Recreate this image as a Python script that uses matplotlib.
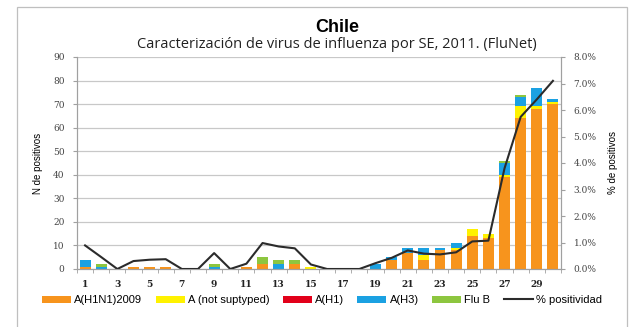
""" weekly influenza characterisation, Chile 2011 """

import numpy as np
import matplotlib.pyplot as plt
from matplotlib.patches import Rectangle
from matplotlib.ticker import FuncFormatter, MultipleLocator

# epidemiological weeks
weeks = list(range(1, 31))

# positive counts per virus type (stacked, bottom to top)
h1n1_2009 = [1, 0, 0, 1, 1, 1, 0, 0, 0, 0, 1, 2, 0, 2, 0, 0, 0, 0, 0, 4,
             7, 4, 8, 8, 14, 13, 39, 64, 68, 70]
a_not_subtyped = [0, 0, 0, 0, 0, 0, 0, 0, 0, 0, 0, 0, 0, 0, 1, 0, 0, 0, 0, 0,
                  0, 2, 0, 1, 3, 2, 1, 5, 1, 1]
a_h1 = [0] * 30
a_h3 = [3, 1, 0, 0, 0, 0, 0, 0, 1, 0, 0, 0, 2, 0, 0, 0, 0, 0, 2, 1,
        2, 3, 1, 2, 0, 0, 5, 4, 8, 1]
flu_b = [0, 1, 0, 0, 0, 0, 0, 0, 1, 0, 0, 3, 2, 2, 0, 0, 0, 0, 0, 0,
         0, 0, 0, 0, 0, 0, 1, 1, 0, 0]

# percent positivity
positividad = [0.89, 0.45, 0.0, 0.30, 0.35, 0.37, 0.0, 0.0, 0.60, 0.0,
               0.20, 0.98, 0.85, 0.78, 0.17, 0.0, 0.0, 0.0, 0.22, 0.42,
               0.70, 0.58, 0.55, 0.63, 1.04, 1.07, 3.80, 5.74, 6.40, 7.10]

series = [
    ("A(H1N1)2009", h1n1_2009, "#F7941D"),
    ("A (not suptyped)", a_not_subtyped, "#FFF200"),
    ("A(H1)", a_h1, "#E2001A"),
    ("A(H3)", a_h3, "#1BA1E2"),
    ("Flu B", flu_b, "#8DC63F"),
]

W, H = 632, 327
fig = plt.figure(figsize=(W / 100, H / 100), dpi=100)
fig.patch.set_facecolor("white")

# outer chart border
fig.patches.append(Rectangle((17 / W, -0.02), 610 / W, 1.0 - 7 / H + 0.02,
                             transform=fig.transFigure, fill=False,
                             edgecolor="#BFBFBF", linewidth=0.9))

ax = fig.add_axes([77 / W, 1 - 269 / H, 484 / W, 212 / H])
x = np.arange(len(weeks))

bottom = np.zeros(len(weeks))
handles = []
for name, vals, color in series:
    vals = np.array(vals, dtype=float)
    b = ax.bar(x, vals, 0.68, bottom=bottom, color=color, label=name,
               zorder=2)
    handles.append(b)
    bottom += vals

ax.set_xlim(-0.5, len(weeks) - 0.5)
ax.set_ylim(0, 90)
ax.yaxis.set_major_locator(MultipleLocator(10))
ax.grid(axis="y", color="#C8C8C8", linewidth=0.9, zorder=0)
ax.set_axisbelow(True)

ax.set_xticks(x[::2])
ax.set_xticklabels([str(w) for w in weeks[::2]])
ax.set_xticks(np.arange(-0.5, len(weeks), 1.0), minor=True)
ax.tick_params(axis="x", which="major", length=0, pad=8)
ax.tick_params(axis="x", which="minor", length=3, color="#A0A0A0")
ax.tick_params(axis="y", length=3, color="#A0A0A0", pad=6)

for lbl in ax.get_xticklabels():
    lbl.set(color="#222222", family="DejaVu Serif", size=6.5, weight="bold")
for lbl in ax.get_yticklabels():
    lbl.set(color="#444444", family="DejaVu Serif", size=6.5)

ax.spines["top"].set_visible(False)
for side in ("left", "right", "bottom"):
    ax.spines[side].set_color("#A0A0A0")

ax.set_ylabel("N de positivos", fontsize=7, family="Liberation Sans",
              labelpad=7)

# positivity line on the secondary axis
ax2 = ax.twinx()
line, = ax2.plot(x, positividad, color="#2B2B2B", linewidth=1.5,
                 label="% positividad", zorder=3)
ax2.set_ylim(0, 8)
ax2.yaxis.set_major_locator(MultipleLocator(1))
ax2.yaxis.set_major_formatter(FuncFormatter(lambda v, p: f"{v:.1f}%"))
ax2.tick_params(axis="y", length=3, color="#A0A0A0", pad=6)
for lbl in ax2.get_yticklabels():
    lbl.set(color="#444444", family="DejaVu Serif", size=6.5)
ax2.spines["top"].set_visible(False)
for side in ("left", "right", "bottom"):
    ax2.spines[side].set_color("#A0A0A0")
ax2.set_ylabel("% de positivos", fontsize=7, family="Liberation Sans",
               labelpad=8)

fig.text(337 / W, 1 - 27 / H, "Chile", ha="center", va="center",
         fontsize=13, fontweight="bold", family="Liberation Sans")
fig.text(337 / W, 1 - 45 / H,
         "Caracterización de virus de influenza por SE, 2011. (FluNet)",
         ha="center", va="center", fontsize=10.5, family="Open Sans",
         color="#222222")

fig.legend(handles + [line], [s[0] for s in series] + ["% positividad"],
           loc="center", bbox_to_anchor=(322 / W, 1 - 300 / H), ncol=6,
           frameon=False, prop=dict(family="Liberation Sans", size=8),
           handlelength=2.6, handleheight=0.6, handletextpad=0.3,
           columnspacing=1.2)

fig.savefig("out.png", dpi=100)
